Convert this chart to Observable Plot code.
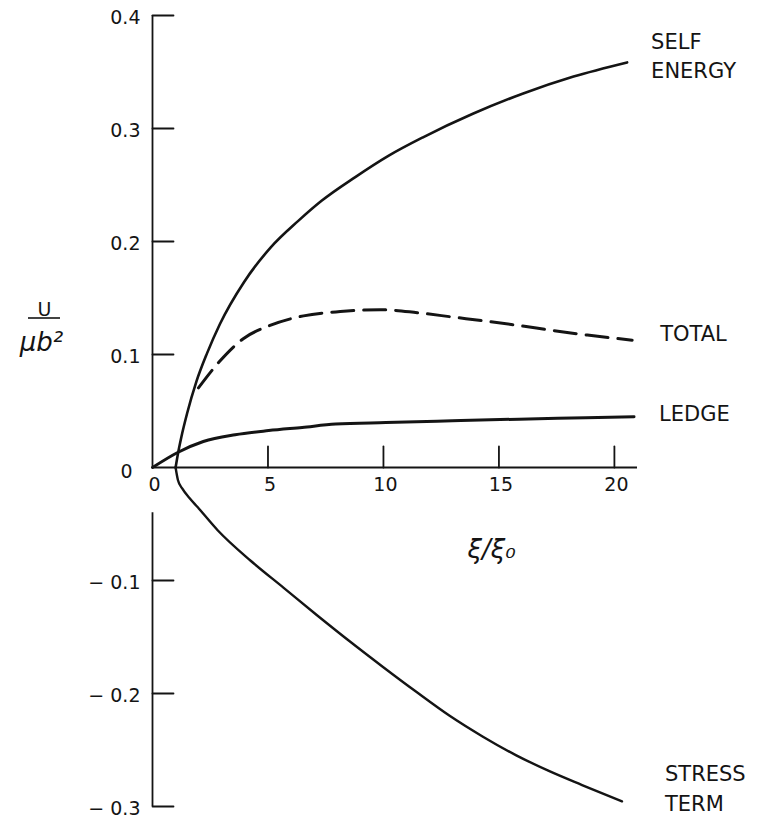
<!DOCTYPE html>
<html>
<head>
<meta charset="utf-8">
<script src="https://cdn.jsdelivr.net/npm/d3@7"></script>
<script src="https://cdn.jsdelivr.net/npm/@observablehq/plot@0.6"></script>
<style>
  body { margin: 0; background: #fff; }
  svg { display: block; }
</style>
</head>
<body>
<div id="chart"></div>
<script>
// ---- data ----
const selfEnergy = [[1,0],[1.1,0.012],[1.25,0.027],[1.5,0.048],[1.9,0.076],[2.36,0.101],[2.92,0.127],[3.96,0.164],[5.13,0.195],[6.3,0.218],[7.32,0.236],[8.78,0.257],[10.23,0.276],[11.69,0.292],[13.87,0.313],[16.05,0.331],[18.23,0.346],[20.55,0.3585]];
const total = [[1.99,0.0705],[2.9,0.0938],[3.93,0.114],[5.09,0.1257],[6.54,0.1342],[8.13,0.138],[9.87,0.1396],[11.46,0.137],[13.05,0.133],[14.49,0.1294],[15.94,0.1254],[17.38,0.1211],[18.83,0.1172],[20.77,0.1127]];
const ledge = [[0,0],[1.11,0.0135],[2.2,0.023],[3.58,0.029],[5.03,0.0327],[6.48,0.0355],[7.93,0.0384],[10.1,0.0398],[12.98,0.0413],[15.87,0.0428],[18.76,0.044],[20.85,0.0449]];
const stressTerm = [[1,0],[1.1,-0.011],[1.3,-0.019],[1.6,-0.027],[1.95,-0.035],[2.82,-0.0555],[4.25,-0.0825],[5.68,-0.1065],[7.11,-0.1305],[8.55,-0.154],[9.98,-0.1765],[11.42,-0.1985],[12.85,-0.2195],[14.29,-0.238],[15.73,-0.2545],[17.16,-0.2685],[18.6,-0.281],[20.33,-0.2955]];

const xTicks = [0, 5, 10, 15, 20];
const yTicks = [0.4, 0.3, 0.2, 0.1, 0, -0.1, -0.2, -0.3];
const yTickLabels = ["0.4", "0.3", "0.2", "0.1", "0", "− 0.1", "− 0.2", "− 0.3"];
const xMax = 21;
const yAxisBreak = -0.04;

const seriesLabels = [
  {name: "SELF\nENERGY", data: selfEnergy},
  {name: "TOTAL", data: total},
  {name: "LEDGE", data: ledge},
  {name: "STRESS\nTERM", data: stressTerm}
];
const xLabel = "ξ/ξ₀";
const yLabelTop = "U";
const yLabelBottom = "μb²";

// ---- drawing ----
const ink = "#141414";
const tickShape = {draw(context, l) { context.moveTo(0, 0); context.lineTo(0, -l); }};
const lastPoint = s => s[s.length - 1];
const xy = {x: d => d[0], y: d => d[1]};

const fractionBar = () => {
  const line = document.createElementNS("http://www.w3.org/2000/svg", "line");
  line.setAttribute("x1", 28); line.setAttribute("x2", 60);
  line.setAttribute("y1", 318); line.setAttribute("y2", 318);
  line.setAttribute("stroke", ink); line.setAttribute("stroke-width", 1.6);
  return line;
};

const labelOffsets = [
  {dx: 24, dy: -8},
  {dx: 28, dy: -9},
  {dx: 25, dy: -5},
  {dx: 43, dy: -15}
];

const frameText = {frameAnchor: "top-left", textAnchor: "middle", lineAnchor: "middle", fill: ink};
const tickRows = yTicks.map((d, i) => ({v: d, t: yTickLabels[i]}));

const chart = Plot.plot({
  width: 757,
  height: 824,
  marginLeft: 152,
  marginRight: 120,
  marginTop: 15,
  marginBottom: 18,
  style: {background: "#fff", color: ink, fontFamily: "DejaVu Sans"},
  x: {domain: [0, xMax], axis: null},
  y: {domain: [d3.min(yTicks), d3.max(yTicks)], axis: null},
  marks: [
    // axes
    Plot.ruleX([0], {y1: 0, y2: d3.max(yTicks), stroke: ink, strokeWidth: 1.8}),
    Plot.ruleX([0], {y1: yAxisBreak, y2: d3.min(yTicks), stroke: ink, strokeWidth: 1.8}),
    Plot.ruleY([0], {x1: 0, x2: xMax, stroke: ink, strokeWidth: 1.8}),
    Plot.vector(yTicks.filter(d => d !== 0), {x: 0, y: d => d, length: 21, rotate: 90, anchor: "start", shape: tickShape, stroke: ink, strokeWidth: 1.8}),
    Plot.vector(xTicks.filter(d => d !== 0), {x: d => d, y: 0, length: 21, anchor: "start", shape: tickShape, stroke: ink, strokeWidth: 1.8}),
    Plot.text(tickRows.filter(d => d.v !== 0), {x: 0, y: "v", text: "t", textAnchor: "end", dx: -12, dy: 2, fontSize: 19, fill: ink}),
    Plot.text(tickRows.filter(d => d.v === 0), {x: 0, y: "v", text: "t", textAnchor: "end", dx: -20, dy: 4, fontSize: 19, fill: ink}),
    Plot.text(xTicks, {x: d => d, y: 0, text: d => String(d), dy: 17, dx: 2, fontSize: 19, fill: ink}),
    // axis titles
    Plot.text([xLabel], {...frameText, dx: 339, dy: 534, fontSize: 26, fontStyle: "italic"}),
    Plot.text([yLabelTop], {...frameText, dx: -108, dy: 294, fontSize: 19}),
    Plot.text([yLabelBottom], {...frameText, dx: -111, dy: 327, fontSize: 26, fontStyle: "italic"}),
    fractionBar,
    // curves
    Plot.line(selfEnergy, {...xy, curve: "monotone-x", stroke: ink, strokeWidth: 2.6}),
    Plot.line(stressTerm, {...xy, curve: "monotone-x", stroke: ink, strokeWidth: 2.4}),
    Plot.line(ledge, {...xy, curve: "monotone-x", stroke: ink, strokeWidth: 3}),
    Plot.line(total, {...xy, curve: "monotone-x", stroke: ink, strokeWidth: 3, strokeDasharray: "22,10"}),
    // curve labels
    ...seriesLabels.map((s, i) => Plot.text([lastPoint(s.data)], {
      ...xy, text: () => s.name, textAnchor: "start", lineAnchor: "middle", lineHeight: 1.4,
      dx: labelOffsets[i].dx, dy: labelOffsets[i].dy, fontSize: 21, fill: ink
    }))
  ]
});
document.getElementById("chart").appendChild(chart);
</script>
</body>
</html>
